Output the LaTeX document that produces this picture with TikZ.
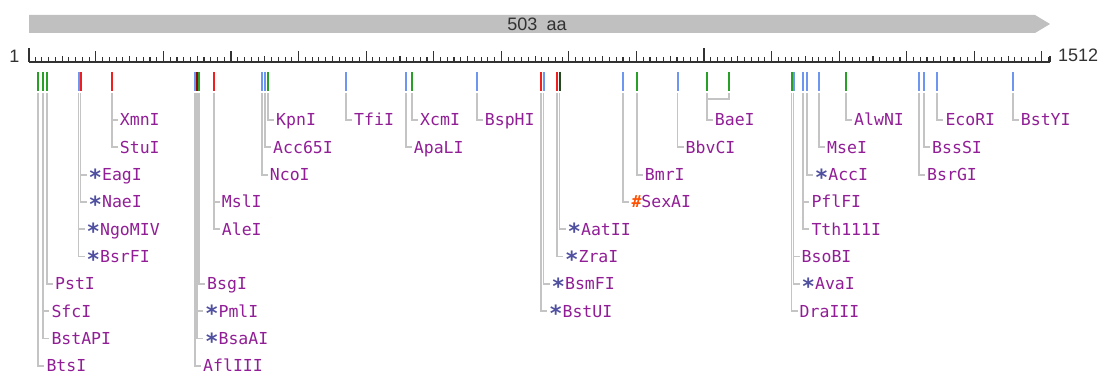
\documentclass[tikz,border=0pt]{standalone}
\usepackage{fontspec}
\setmainfont{Liberation Sans}
\newfontfamily\monof{DejaVu Sans Mono}
\usetikzlibrary{calc}
\definecolor{barg}{RGB}{192,192,192}
\definecolor{rulc}{RGB}{50,50,50}
\definecolor{mgreen}{RGB}{40,160,40}
\definecolor{mblue}{RGB}{110,150,240}
\definecolor{mred}{RGB}{240,30,30}
\definecolor{mdred}{RGB}{140,10,10}
\definecolor{mdgreen}{RGB}{40,70,30}
\definecolor{lblc}{RGB}{145,30,150}
\definecolor{astc}{RGB}{80,80,160}
\definecolor{hashc}{RGB}{255,80,0}
\definecolor{connc}{RGB}{196,196,196}
\newcommand\astr{{\color{astc}\raisebox{-4.5pt}{\bfseries\scalebox{1.35}{*}}}}
\newcommand\hsh{{\color{hashc}\bfseries\#}}
\tikzset{
  mkline/.style={line width=2pt},
  conn/.style={draw=connc,line width=1.7pt},
  lbl/.style={font=\monof\fontsize{16.5}{16.5}\selectfont,text=lblc,inner sep=0pt,
    text height=12pt,text depth=0pt,anchor=west},
  ruler/.style={draw=rulc,line width=1.1pt},
}
\newcommand\mk[3]{%
  \draw[mkline,#3] (#2,72) -- (#2,91);
  \coordinate (#1) at (#2,93);}
\newcommand\lab[4]{%
  \path (#2) ++(8,0) coordinate (tmp);
  \node[lbl] (#1) at (tmp |- #3) {#4};
  \draw[conn] (#2) |- ([xshift=-2pt]#1.west);}
\begin{document}
\begin{tikzpicture}[x=1pt,y=-1pt]
\useasboundingbox[fill=white] (0,0) rectangle (1104,374);
% protein bar
\fill[barg] (29,15) -- (1035,15) -- (1050,24) -- (1035,33) -- (29,33) -- cycle;
\node[font=\fontsize{18}{18}\selectfont,text=rulc,inner sep=0pt] (aa) at (537,24) {503\hspace{4pt} aa};
% ruler
\draw[ruler] (29,62) -- (1050,62);
\draw[ruler] (29,62) -- (29,48);
\draw[ruler] (1050,62) -- (1050,56);
\foreach \i in {1,...,151}{
  \pgfmathsetmacro\xx{29+(10*\i-1)*0.675712}
  \pgfmathtruncatemacro\mA{mod(\i,10)}
  \pgfmathtruncatemacro\mB{mod(\i,5)}
  \pgfmathsetmacro\hh{ifthenelse(\i==100,14,ifthenelse(\mA==0,10.5,ifthenelse(\mB==0,6,4.5)))}
  \draw[ruler] (\xx,62) -- (\xx,62-\hh);
}
\node[font=\fontsize{18}{18}\selectfont,text=rulc,inner sep=0pt] (one) at (14.5,56) {1};
\node[font=\fontsize{18}{18}\selectfont,text=rulc,inner sep=0pt,anchor=west] (end) at (1058,55) {1512};
% rows
\foreach \k in {1,...,10}{\coordinate (r\k) at (0,{120+27.33*(\k-1)});}
% markers
\mk{m1}{38.3}{mgreen}
\mk{m2}{43.3}{mgreen}
\mk{m3}{47}{mgreen}
\mk{m4}{78.5}{mblue}
\mk{m5}{80.5}{mred}
\mk{m6}{111.7}{mred}
\mk{m7}{195}{mblue}
\mk{m8}{197}{mdred}
\mk{m9}{199}{mgreen}
\mk{m10}{213.7}{mred}
\mk{m11}{261.7}{mblue}
\mk{m12}{265}{mblue}
\mk{m13}{268}{mgreen}
\mk{m14}{346}{mblue}
\mk{m15}{405.7}{mblue}
\mk{m16}{412}{mgreen}
\mk{m17}{476.7}{mblue}
\mk{m18}{541}{mred}
\mk{m19}{543.5}{mblue}
\mk{m20}{557}{mred}
\mk{m21}{559.5}{mdgreen}
\mk{m22}{623.3}{mblue}
\mk{m23}{636.7}{mgreen}
\mk{m24}{677.5}{mblue}
\mk{m25}{706.7}{mgreen}
\mk{m26}{729}{mgreen}
\mk{m27}{791.5}{mgreen}
\mk{m28}{793.5}{mblue}
\mk{m29}{803.3}{mblue}
\mk{m30}{806.7}{mblue}
\mk{m31}{819}{mblue}
\mk{m32}{846}{mgreen}
\mk{m33}{919}{mblue}
\mk{m34}{924}{mblue}
\mk{m35}{937.3}{mblue}
\mk{m36}{1012.7}{mblue}
% labels
\lab{XmnI}{m6}{r1}{XmnI}
\lab{StuI}{m6}{r2}{StuI}
\lab{EagI}{m5}{r3}{\astr EagI}
\lab{NaeI}{m5}{r4}{\astr NaeI}
\lab{NgoMIV}{m4}{r5}{\astr NgoMIV}
\lab{BsrFI}{m4}{r6}{\astr BsrFI}
\lab{PstI}{m3}{r7}{PstI}
\lab{SfcI}{m2}{r8}{SfcI}
\lab{BstAPI}{m2}{r9}{BstAPI}
\lab{BtsI}{m1}{r10}{BtsI}
\lab{MslI}{m10}{r4}{MslI}
\lab{AleI}{m10}{r5}{AleI}
\lab{BsgI}{m9}{r7}{BsgI}
\lab{PmlI}{m8}{r8}{\astr PmlI}
\lab{BsaAI}{m8}{r9}{\astr BsaAI}
\lab{AflIII}{m7}{r10}{AflIII}
\lab{KpnI}{m13}{r1}{KpnI}
\lab{Acc65I}{m12}{r2}{Acc65I}
\lab{NcoI}{m11}{r3}{NcoI}
\lab{TfiI}{m14}{r1}{TfiI}
\lab{XcmI}{m16}{r1}{XcmI}
\lab{ApaLI}{m15}{r2}{ApaLI}
\lab{BspHI}{m17}{r1}{BspHI}
\lab{BsmFI}{m19}{r7}{\astr BsmFI}
\lab{BstUI}{m18}{r8}{\astr BstUI}
\lab{AatII}{m21}{r5}{\astr AatII}
\lab{ZraI}{m20}{r6}{\astr ZraI}
\lab{SexAI}{m22}{r4}{\hsh SexAI}
\lab{BmrI}{m23}{r3}{BmrI}
\lab{BbvCI}{m24}{r2}{BbvCI}
\draw[conn] (m26) |- ($(m25)+(0,6)$);
\lab{BaeI}{m25}{r1}{BaeI}
\lab{AlwNI}{m32}{r1}{AlwNI}
\lab{MseI}{m31}{r2}{MseI}
\lab{AccI}{m30}{r3}{\astr AccI}
\lab{PflFI}{m29}{r4}{PflFI}
\lab{Tth111I}{m29}{r5}{Tth111I}
\lab{BsoBI}{m28}{r6}{BsoBI}
\lab{AvaI}{m28}{r7}{\astr AvaI}
\lab{DraIII}{m27}{r8}{DraIII}
\lab{EcoRI}{m35}{r1}{EcoRI}
\lab{BssSI}{m34}{r2}{BssSI}
\lab{BsrGI}{m33}{r3}{BsrGI}
\lab{BstYI}{m36}{r1}{BstYI}
\end{tikzpicture}
\end{document}
